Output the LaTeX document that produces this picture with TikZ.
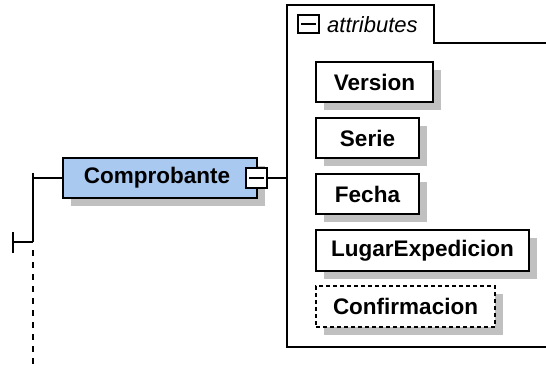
\documentclass[tikz,border=0pt]{standalone}
\usepackage{fontspec}
\setmainfont{Liberation Sans}
\usetikzlibrary{shadows}
\definecolor{elemblue}{HTML}{A9C9F1}
\definecolor{shadowgray}{HTML}{C0C0C0}
\begin{document}
\begin{tikzpicture}[x=1pt,y=-1pt,
  lw/.style={line width=1.7pt},
  elem/.style={draw=black, lw, rectangle, inner sep=0pt, font=\fontsize{22.5}{24}\selectfont\bfseries,
    drop shadow={shadow xshift=8pt, shadow yshift=-8pt, fill=shadowgray, opacity=1}},
  attr/.style={elem, fill=white},
  optattr/.style={attr, dash pattern=on 4pt off 3pt},
  minusbox/.style={draw=black, line width=1.4pt, fill=white, rectangle, inner sep=0pt},
  conn/.style={draw=black, lw}
]
\useasboundingbox (0,0) rectangle (546,369);
\fill[white] (0,0) rectangle (546,369);

% container
\draw[lw] (546,347) -- (287,347) -- (287,5) -- (434,5) -- (434,43) -- (546,43);
\coordinate (contleft) at (287,178);

% attributes tab
\node[minusbox, minimum width=21pt, minimum height=18pt] (tabminus) at (308.5,24) {};
\draw[line width=1.4pt] ([xshift=4pt]tabminus.west) -- ([xshift=-4pt]tabminus.east);
\node[anchor=west, inner sep=0pt, font=\fontsize{22}{24}\selectfont\itshape] (tablabel) at (327,25) {attributes};

% main element
\node[elem, fill=elemblue, minimum width=194pt, minimum height=40pt] (comp) at (160,178) {\hspace*{-6pt}Comprobante};
\node[minusbox, minimum width=21pt, minimum height=20pt] (compminus) at (256.5,178) {};
\draw[line width=1.4pt] ([xshift=4pt]compminus.west) -- ([xshift=-4pt]compminus.east);
\draw[conn] (compminus.east) -- (contleft);

% attributes
\node[attr, minimum width=117pt, minimum height=40pt] (version) at (374.5,82) {Version};
\node[attr, minimum width=103pt, minimum height=40pt] (serie) at (367.5,138) {Serie};
\node[attr, minimum width=103pt, minimum height=40pt] (fecha) at (367.5,194) {Fecha};
\node[attr, minimum width=213pt, minimum height=41pt] (lugar) at (422.5,250.5) {LugarExpedicion};
\node[optattr, minimum width=179pt, minimum height=41pt] (conf) at (405.5,306.5) {Confirmacion};

% left tree
\coordinate (vtop) at (33,173);
\coordinate (vjoin) at (33,242);
\coordinate (vh) at (33,178);
\coordinate (bar) at (13,242);
\coordinate (bartop) at (13,232);
\coordinate (barbot) at (13,253);
\coordinate (vend) at (33,369);
\draw[conn] (vtop) -- (vjoin);
\draw[conn] (vh) -- (comp.west);
\draw[conn] (bar) -- (vjoin);
\draw[conn] (bartop) -- (barbot);
\draw[line width=2pt, dash pattern=on 6pt off 6pt] ([yshift=-8pt]vjoin) -- (vend);
\end{tikzpicture}
\end{document}
